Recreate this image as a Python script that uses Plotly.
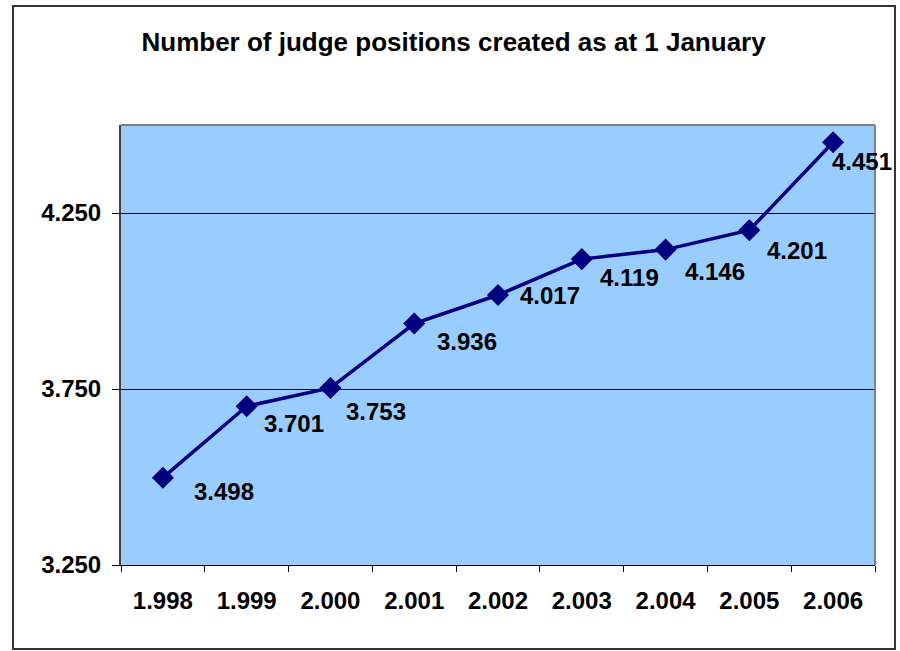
import plotly.graph_objects as go

# dati
anni = ["1.998", "1.999", "2.000", "2.001", "2.002", "2.003", "2.004", "2.005", "2.006"]
posti_giudice = [3.498, 3.701, 3.753, 3.936, 4.017, 4.119, 4.146, 4.201, 4.451]
etichette = ["3.498", "3.701", "3.753", "3.936", "4.017", "4.119", "4.146", "4.201", "4.451"]
y_tick_valori = [3.25, 3.75, 4.25]
y_tick_testi = ["3.250", "3.750", "4.250"]
titolo = "Number of judge positions created as at 1 January"

FONT = "Liberation Sans, Arial, sans-serif"
NAVY = "#000080"

# spostamento in pixel delle etichette rispetto al punto (a destra / in basso)
sposta_x = [29, 15, 14, 21, 20, 16, 17, 16, -3]
sposta_y = [14, 17, 24, 18, 0, 18, 22, 20, 19]

fig = go.Figure()
fig.add_trace(go.Scatter(
    x=anni, y=posti_giudice, mode="lines+markers",
    line=dict(color=NAVY, width=3.5),
    marker=dict(symbol="diamond", size=17, color=NAVY),
    showlegend=False, hoverinfo="skip",
))

# etichette dei valori (asse categorico: posizione = indice della categoria)
for i in range(len(anni)):
    fig.add_annotation(
        x=i, y=posti_giudice[i], xref="x", yref="y",
        text=etichette[i], showarrow=False,
        xanchor="left", yanchor="middle",
        xshift=sposta_x[i], yshift=-sposta_y[i],
        font=dict(family=FONT, size=24, color="black", weight="bold"),
    )

# bordo esterno del grafico
fig.add_shape(type="rect", xref="paper", yref="paper",
              x0=-0.1432, x1=1.0265, y0=-0.1909, y1=1.2705,
              line=dict(color="#333333", width=2), layer="above")
# bordi grigi dell'area del grafico (sopra e destra)
fig.add_shape(type="line", xref="paper", yref="paper", x0=0, x1=1, y0=1, y1=1,
              line=dict(color="#808080", width=2), layer="above")
fig.add_shape(type="line", xref="paper", yref="paper", x0=1, x1=1, y0=0, y1=1,
              line=dict(color="#808080", width=2), layer="above")

fig.update_xaxes(
    type="category", range=[-0.5, len(anni) - 0.5],
    tickson="boundaries", ticks="outside", ticklen=6,
    tickcolor="black", showgrid=False, showline=True, linecolor="black", linewidth=1,
    ticklabelstandoff=14,
    tickfont=dict(family=FONT, size=24, color="black", weight="bold"),
)
fig.update_yaxes(
    range=[3.25, 4.5], tickvals=y_tick_valori, ticktext=y_tick_testi,
    ticks="outside", ticklen=7, tickcolor="black",
    showgrid=True, gridcolor="black", gridwidth=1, zeroline=False,
    showline=True, linecolor="#404040", linewidth=2,
    ticklabelstandoff=6,
    tickfont=dict(family=FONT, size=24, color="black", weight="bold"),
)

fig.update_layout(
    width=900, height=651,
    margin=dict(l=121, r=25, t=125, b=86),
    paper_bgcolor="white", plot_bgcolor="#99CCFF",
    title=dict(text=titolo, x=0.504, xref="container", xanchor="center",
               y=1 - 42 / 651, yanchor="middle",
               font=dict(family=FONT, size=26, color="black", weight="bold")),
)

# niente margine del body, così la figura parte dall'angolo della pagina
fig.write_html("out.html", config={"displayModeBar": False},
               post_script="document.body.style.margin='0';")
